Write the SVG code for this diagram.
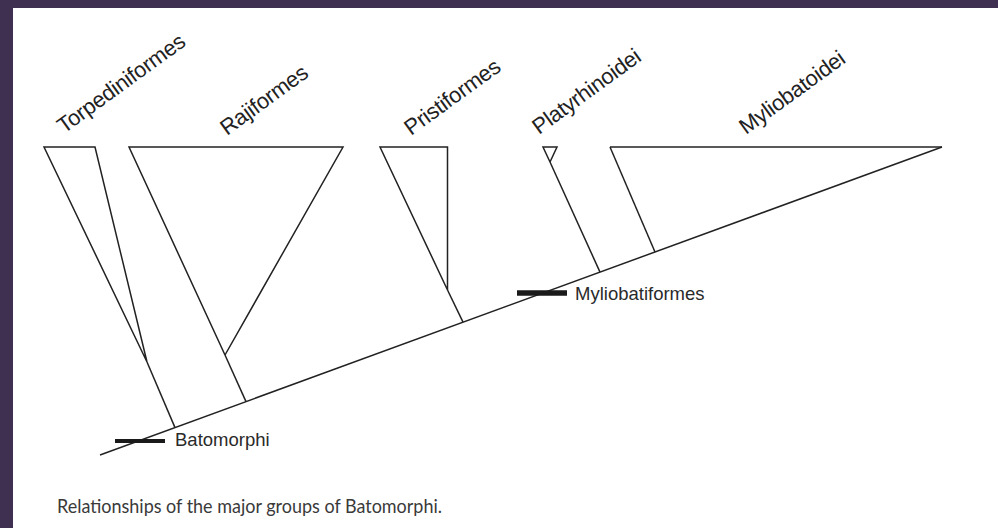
<svg xmlns="http://www.w3.org/2000/svg" width="998" height="528" viewBox="0 0 998 528">
  <style>
    .ln { fill: none; stroke: #222; stroke-width: 1.5; stroke-linejoin: miter; stroke-linecap: butt; }
    .bar { stroke: #1a1a1a; stroke-linecap: butt; }
    .clade { font-family: "Liberation Sans", Arial, sans-serif; font-size: 22px; letter-spacing: -0.3px; fill: #222; }
    .mark { font-family: "Liberation Sans", Arial, sans-serif; font-size: 18.5px; fill: #2a2a2a; }
    .caption { font-family: Lato, "Open Sans", sans-serif; font-size: 19px; fill: #3a3a3a; }
  </style>

  <!-- frame -->
  <rect x="0" y="0" width="998" height="528" fill="#3f2f50"/>
  <rect x="13" y="8" width="985" height="520" fill="#ffffff"/>

  <!-- backbone and stems -->
  <g id="connectors">
    <line class="ln" x1="100" y1="455" x2="942" y2="147"/>
    <polyline class="ln" points="147,362 175,427.6"/>
    <polyline class="ln" points="225,355 246,401.6"/>
    <polyline class="ln" points="447.5,290 463,322.2"/>
    <polyline class="ln" points="550,162 600,272.1"/>
    <polyline class="ln" points="610,147 655,252"/>
  </g>

  <g id="torpediniformes">
    <polyline class="ln" points="147,362 44,147 95,147 147,362"/>
    <text class="clade" transform="translate(64,134) rotate(-36)">Torpediniformes</text>
  </g>

  <g id="rajiformes">
    <polyline class="ln" points="225,355 343,147 129,147 225,355"/>
    <text class="clade" transform="translate(227,136) rotate(-36)">Rajiformes</text>
  </g>

  <g id="pristiformes">
    <polyline class="ln" points="447.5,290 380,147 447.5,147 447.5,290"/>
    <text class="clade" transform="translate(411,136) rotate(-36)">Pristiformes</text>
  </g>

  <g id="platyrhinoidei">
    <polyline class="ln" points="550,162 543,147 557,147 550,162"/>
    <text class="clade" transform="translate(539,135) rotate(-36)">Platyrhinoidei</text>
  </g>

  <g id="myliobatoidei">
    <polyline class="ln" points="610,147 942,147"/>
    <text class="clade" transform="translate(746,135) rotate(-36)">Myliobatoidei</text>
  </g>

  <g id="myliobatiformes">
    <line class="bar" x1="517" y1="293" x2="567" y2="293" stroke-width="5.5"/>
    <text class="mark" x="575" y="300">Myliobatiformes</text>
  </g>

  <g id="batomorphi">
    <line class="bar" x1="115" y1="441" x2="165" y2="441" stroke-width="4"/>
    <text class="mark" x="175" y="446">Batomorphi</text>
  </g>

  <text class="caption" x="57" y="513" textLength="385" lengthAdjust="spacingAndGlyphs">Relationships of the major groups of Batomorphi.</text>
</svg>
